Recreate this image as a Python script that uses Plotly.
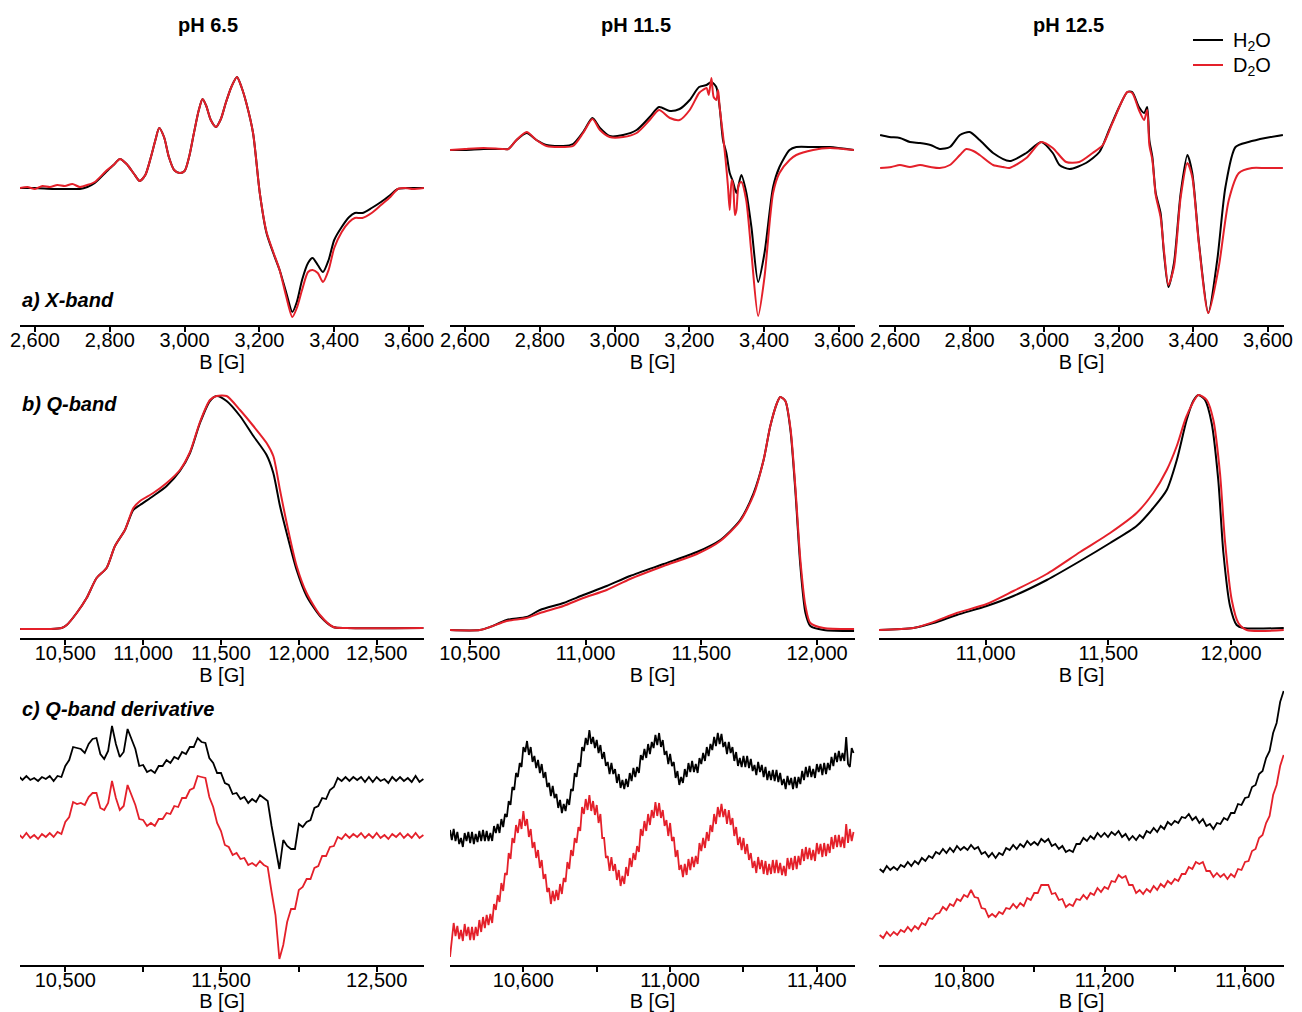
import numpy as np
import plotly.graph_objects as go

# ------------------------------------------------------------------ data
# a) X-band  (B in G, intensity in arbitrary units)
XA1_B_H2O = [2560,2600,2650,2700,2720,2740,2760,2790,2810,2827,2845,2865,2880,2895,2910,2922,2932,2945,2958,2972,2987,3000,3012,3025,3038,3048,3058,3070,3084,3097,3110,3125,3140,3152,3165,3183,3201,3219,3237,3254,3272,3288,3300,3314,3330,3342,3356,3370,3385,3400,3420,3440,3455,3475,3500,3525,3550,3570,3600,3640]
XA1_H2O = [137,137,136,136,136,138,142,153,160,166,161,151,144,150,168,185,197,188,168,155,152,154,168,192,215,226,219,205,198,206,222,238,248,238,222,192,132,92,72,55,32,13,23,45,62,67,60,53,65,85,98,108,112,112,117,123,130,136,137,137]
XA1_B_D2O = [2560,2580,2600,2620,2640,2660,2680,2700,2720,2740,2760,2790,2810,2827,2845,2865,2880,2895,2910,2922,2932,2945,2958,2972,2987,3000,3012,3025,3038,3048,3058,3070,3084,3097,3110,3125,3140,3152,3165,3183,3201,3219,3237,3254,3272,3288,3300,3314,3330,3342,3356,3370,3385,3400,3420,3440,3455,3475,3500,3525,3550,3570,3590,3610,3640]
XA1_D2O = [137,138,136,139,138,140,139,141,138,140,143,154,160,166,161,151,144,150,168,185,197,188,168,155,152,154,168,192,215,226,219,205,198,206,222,238,248,238,222,192,132,93,73,55,28,8,17,35,53,55,52,43,55,77,93,103,107,107,112,120,128,136,137,136,137]

XA2_B_H2O = [2560,2600,2650,2700,2716,2738,2765,2791,2818,2863,2889,2916,2941,2961,2987,3023,3059,3094,3119,3148,3174,3201,3226,3246,3259,3272,3281,3290,3299,3308,3317,3326,3339,3352,3366,3384,3401,3424,3441,3468,3486,3531,3575,3640]
XA2_H2O = [175,175,176,176,176,185,192,185,180,179,181,193,207,197,189,190,195,208,218,214,216,225,238,240,243,238,218,185,172,152,143,132,150,133,98,43,72,138,158,175,178,178,178,175]
XA2_B_D2O = [2560,2600,2650,2700,2716,2738,2765,2791,2818,2863,2889,2916,2941,2961,2987,3023,3059,3094,3119,3148,3174,3201,3226,3236,3246,3252,3259,3265,3272,3277,3281,3290,3297,3303,3308,3313,3317,3322,3326,3332,3339,3352,3366,3384,3401,3424,3441,3468,3486,3531,3575,3640]
XA2_D2O = [175,176,177,176,176,185,193,185,179,178,179,192,206,195,188,188,192,205,215,207,205,215,232,235,237,230,247,228,225,235,218,190,165,140,115,145,140,110,115,140,143,125,72,9,48,132,152,165,170,175,177,175]

XA3_B_H2O = [2560,2585,2613,2640,2667,2695,2720,2747,2774,2800,2827,2863,2907,2952,2992,3023,3041,3068,3112,3148,3174,3201,3223,3236,3254,3268,3276,3282,3290,3299,3312,3321,3333,3348,3366,3384,3397,3415,3440,3464,3486,3513,3548,3593,3640]
XA3_H2O = [190,188,187,183,182,180,176,178,190,193,185,172,164,172,183,172,160,156,162,173,195,218,233,233,218,212,218,185,168,132,112,72,38,62,132,170,152,82,12,65,138,178,183,187,190]
XA3_B_D2O = [2560,2590,2613,2640,2667,2695,2720,2747,2774,2791,2810,2827,2863,2890,2907,2952,2992,3023,3059,3094,3130,3157,3183,3223,3236,3254,3268,3276,3282,3290,3299,3312,3321,3333,3348,3366,3384,3397,3415,3440,3468,3495,3522,3557,3593,3640]
XA3_D2O = [157,158,160,158,160,158,157,160,170,176,174,170,160,158,157,167,183,177,163,163,172,180,202,233,232,215,205,215,180,165,130,108,75,40,58,128,162,148,80,12,58,125,152,157,157,157]

# b) Q-band (absorption)
QB1_B_H2O = [10210,10402,10476,10509,10573,10637,10701,10765,10819,10883,10937,10980,11065,11151,11236,11301,11365,11429,11472,11536,11622,11708,11793,11836,11879,11922,11986,12050,12136,12221,12307,12800]
QB1_H2O = [9,9,10,13,25,40,60,70,92,108,128,133,142,152,167,185,215,237,242,237,222,202,183,165,132,105,68,42,22,11,10,10]
QB1_B_D2O = QB1_B_H2O
QB1_D2O = [9,9,10,13,25,40,60,70,92,108,130,137,145,155,168,186,216,238,242,242,228,212,195,182,148,115,72,45,23,11,10,10]

QB2_B_H2O = [10406,10543,10587,10659,10745,10803,10904,10990,11091,11192,11337,11481,11582,11668,11726,11769,11798,11827,11841,11863,11885,11906,11928,11950,11971,12029,12160]
QB2_H2O = [8,8,11,18,21,28,35,43,52,62,74,86,98,118,145,178,212,235,241,237,208,148,72,25,12,8,7]
QB2_B_D2O = QB2_B_H2O
QB2_D2O = [8,8,11,17,20,25,32,40,48,59,72,84,97,117,143,178,212,235,241,237,210,152,78,32,15,10,9]

QB3_B_H2O = [10565,10705,10787,10882,11004,11113,11249,11385,11507,11615,11683,11738,11779,11819,11846,11867,11894,11921,11948,11969,11996,12023,12050,12215]
QB3_H2O = [8,10,15,23,32,42,58,77,95,112,130,148,178,218,237,243,238,215,158,85,32,13,10,10]
QB3_B_D2O = [10565,10705,10787,10882,11004,11113,11249,11385,11507,11615,11683,11738,11779,11819,11867,11901,11928,11955,11975,12003,12030,12064,12215]
QB3_D2O = [8,10,16,25,34,47,64,86,105,125,145,168,192,222,243,238,218,165,98,38,15,8,8]

# c) Q-band derivative (evenly sampled field sweeps: start, stop, values)
QD1_SWEEP = (10200, 12800)
QD1_H2O = [189,185,189,185,187,184,188,186,189,184, 189,188,199,205,218,217,216,212,221,226,
           227,211,206,214,239,221,208,213,236,226, 216,199,200,193,195,192,199,199,205,202,
           208,206,213,211,218,218,227,223,222,207, 202,192,192,182,180,171,172,166,168,162,
           166,163,170,167,164,139,117,96,125,119, 116,116,141,138,143,145,157,159,167,166,
           175,178,187,184,188,184,188,185,188,183, 188,183,188,184,186,182,188,184,188,184,
           187,183,189,183,186]
QD1_D2O = [131,127,132,127,130,126,131,128,132,128, 133,131,143,148,163,161,162,160,168,172,
           172,157,155,162,184,167,155,159,180,170, 160,146,145,139,142,139,146,146,152,151,
           159,158,167,167,175,177,189,188,187,168, 158,142,134,120,118,110,112,106,107,100,
           102,99,104,100,98,73,50,6,20,43, 56,56,75,78,86,86,97,99,109,109,
           118,119,128,126,131,127,131,128,132,127, 131,127,132,127,130,126,131,128,132,127,
           131,127,132,127,130]

QD2_SWEEP = (10400, 11500)
QD2_H2O = [135,125,136,124,133,121,127,118,132,124, 133,122,133,121,131,123,134,124,135,124,
           134,124,132,124,139,132,141,132,146,138, 151,148,164,160,178,175,192,188,202,198,
           218,213,224,210,218,203,209,197,205,192, 201,187,193,178,182,169,179,167,171,157,
           165,152,161,154,166,160,176,174,192,188, 202,198,218,214,227,220,235,221,228,217,
           225,212,220,206,213,199,203,191,202,191, 196,182,191,177,185,176,186,178,192,184,
           197,188,198,192,210,205,216,207,221,211, 223,217,230,220,232,218,225,210,214,201,
           211,199,203,187,194,180,188,182,196,188, 202,193,204,193,201,192,207,201,212,204,
           218,209,221,215,228,219,232,221,231,218, 223,211,223,212,218,204,213,199,207,198,
           209,198,209,197,206,194,200,190,203,193, 200,188,198,185,194,185,195,184,195,183,
           192,180,186,176,189,180,187,176,188,177, 188,181,194,185,198,188,199,188,196,187,
           201,193,201,190,202,191,202,195,208,199, 212,203,214,204,212,204,228,201,198,217,
           212]
QD2_D2O = [8,28,42,29,39,26,35,24,41,29, 38,25,38,25,38,29,45,33,48,37,
           50,40,51,42,61,55,70,63,82,74, 92,90,112,106,127,122,140,132,146,136,
           154,139,146,128,136,117,123,107,115,97, 105,86,91,73,77,61,74,64,75,65,
           81,71,87,83,103,96,115,109,127,122, 138,134,158,151,166,155,170,154,164,150,
           160,142,151,127,127,107,109,94,108,94, 101,85,95,79,89,81,98,89,107,98,
           112,105,119,113,136,129,144,134,151,140, 155,147,163,149,162,147,155,139,145,129,
           142,124,128,108,115,95,100,88,101,90, 106,95,108,98,109,101,122,114,127,117,
           133,124,140,133,151,141,158,148,161,148, 156,141,155,140,147,129,138,120,128,115,
           127,111,121,105,112,97,104,92,108,96, 105,91,104,90,101,91,105,92,105,92,
           102,90,99,89,107,96,107,95,109,96, 109,100,116,104,118,106,117,105,115,104,
           122,111,121,108,122,109,121,112,128,116, 130,118,130,118,128,117,141,122,136,124,
           133]

QD3_SWEEP = (10560, 11710)
QD3_H2O = [96,93,99,95,98,95,100,98,103,99, 104,101,107,104,109,107,113,111,116,112,
           117,113,119,115,118,115,120,116,118,111, 113,108,112,107,112,110,117,115,120,116,
           121,118,124,120,123,120,126,123,126,119, 121,116,119,113,115,113,121,121,127,124,
           129,126,132,128,132,128,133,130,134,128, 131,125,129,125,130,127,134,132,137,133,
           139,136,143,140,144,142,148,147,151,145, 148,142,146,139,141,136,142,141,147,145,
           152,152,161,160,167,168,178,180,191,194, 207,214,232,242,263,274]
QD3_D2O = [30,27,33,29,33,30,35,33,38,34, 39,36,42,40,47,46,51,52,58,55,
           61,59,66,64,70,68,75,68,67,57, 56,48,51,48,53,51,57,56,61,57,
           62,59,67,65,72,72,80,80,80,71, 72,65,66,58,61,59,66,65,70,66,
           72,70,77,73,78,76,84,83,90,87, 89,80,80,72,75,71,76,73,79,75,
           81,78,84,81,86,84,91,91,98,96, 103,101,103,94,94,88,92,88,91,86,
           91,88,96,95,103,104,114,116,127,130, 142,149,170,180,199,210]

# axis ticks / labels (labelled ticks) and unlabelled intermediate ticks
XB_TICKS = [2600, 2800, 3000, 3200, 3400, 3600]
XB_LABELS = ["2,600", "2,800", "3,000", "3,200", "3,400", "3,600"]
QB1_TICKS = [10500, 11000, 11500, 12000, 12500]
QB1_LABELS = ["10,500", "11,000", "11,500", "12,000", "12,500"]
QB2_TICKS = [10500, 11000, 11500, 12000]
QB2_LABELS = ["10,500", "11,000", "11,500", "12,000"]
QB3_TICKS = [11000, 11500, 12000]
QB3_LABELS = ["11,000", "11,500", "12,000"]
QD1_TICKS = [10500, 11500, 12500]
QD1_LABELS = ["10,500", "11,500", "12,500"]
QD1_MINOR = [11000, 12000]
QD2_TICKS = [10600, 11000, 11400]
QD2_LABELS = ["10,600", "11,000", "11,400"]
QD2_MINOR = [10800, 11200]
QD3_TICKS = [10800, 11200, 11600]
QD3_LABELS = ["10,800", "11,200", "11,600"]
QD3_MINOR = [11000, 11400]

COLUMN_TITLES = ["pH 6.5", "pH 11.5", "pH 12.5"]
ROW_LABELS = ["a) X-band", "b) Q-band", "c) Q-band derivative"]
SERIES_NAMES = ["H<sub>2</sub>O", "D<sub>2</sub>O"]

# ------------------------------------------------------------------ layout constants
W, H = 1302, 1012
BLACK = "#000000"
RED = "#e4202a"
COLORS = [BLACK, RED]
FONT = "Liberation Sans, Arial, Helvetica, sans-serif"
COLS_PX = [(20, 424), (450, 855), (879, 1284)]
ROWS_PX = [(70, 325), (390, 638), (686, 965)]
XRANGES = [
    [(2560, 3640), (2560, 3643), (2557, 3643)],
    [(10209, 12804), (10414, 12164), (10565, 12216)],
    [(10209, 12804), (10400, 11504), (10558, 11711)],
]


def sweep(rng, vals):
    return np.linspace(rng[0], rng[1], len(vals))


panels = [
    (0, 0, [(XA1_B_H2O, XA1_H2O), (XA1_B_D2O, XA1_D2O)], True, XB_TICKS, XB_LABELS, None),
    (0, 1, [(XA2_B_H2O, XA2_H2O), (XA2_B_D2O, XA2_D2O)], True, XB_TICKS, XB_LABELS, None),
    (0, 2, [(XA3_B_H2O, XA3_H2O), (XA3_B_D2O, XA3_D2O)], True, XB_TICKS, XB_LABELS, None),
    (1, 0, [(QB1_B_H2O, QB1_H2O), (QB1_B_D2O, QB1_D2O)], True, QB1_TICKS, QB1_LABELS, None),
    (1, 1, [(QB2_B_H2O, QB2_H2O), (QB2_B_D2O, QB2_D2O)], True, QB2_TICKS, QB2_LABELS, None),
    (1, 2, [(QB3_B_H2O, QB3_H2O), (QB3_B_D2O, QB3_D2O)], True, QB3_TICKS, QB3_LABELS, None),
    (2, 0, [(sweep(QD1_SWEEP, QD1_H2O), QD1_H2O), (sweep(QD1_SWEEP, QD1_D2O), QD1_D2O)], False, QD1_TICKS, QD1_LABELS, QD1_MINOR),
    (2, 1, [(sweep(QD2_SWEEP, QD2_H2O), QD2_H2O), (sweep(QD2_SWEEP, QD2_D2O), QD2_D2O)], False, QD2_TICKS, QD2_LABELS, QD2_MINOR),
    (2, 2, [(sweep(QD3_SWEEP, QD3_H2O), QD3_H2O), (sweep(QD3_SWEEP, QD3_D2O), QD3_D2O)], False, QD3_TICKS, QD3_LABELS, QD3_MINOR),
]

fig = go.Figure()
layout_axes = {}
for k, (r, c, traces, smooth, tv, tt, minor) in enumerate(panels, start=1):
    sx = "" if k == 1 else str(k)
    for i, (x, y) in enumerate(traces):
        line = dict(color=COLORS[i], width=2 if smooth else 1.8)
        if smooth:
            line.update(shape="spline", smoothing=0.7)
        fig.add_trace(go.Scatter(
            x=list(x), y=y, mode="lines", line=line,
            xaxis="x" + sx, yaxis="y" + sx,
            name=SERIES_NAMES[i], showlegend=False, hoverinfo="skip"))
    x0, x1 = COLS_PX[c]
    y0, y1 = ROWS_PX[r]
    ax = dict(
        domain=[x0 / W, x1 / W], anchor="y" + sx, range=list(XRANGES[r][c]),
        tickmode="array", tickvals=tv, ticktext=tt,
        ticks="outside", ticklen=5, tickwidth=1.5, tickcolor=BLACK,
        showline=True, linecolor=BLACK, linewidth=2,
        showgrid=False, zeroline=False, fixedrange=True, automargin=False,
        tickfont=dict(family=FONT, size=20, color=BLACK),
        title=dict(text="B [G]", font=dict(family=FONT, size=20, color=BLACK), standoff=0),
    )
    if minor is not None:
        ax["minor"] = dict(ticks="outside", ticklen=5, tickwidth=1.5, tickcolor=BLACK,
                           tickmode="array", tickvals=minor, showgrid=False)
    layout_axes["xaxis" + sx] = ax
    layout_axes["yaxis" + sx] = dict(
        domain=[1 - y1 / H, 1 - y0 / H], anchor="x" + sx,
        range=[0, y1 - y0], visible=False, fixedrange=True, automargin=False)

annotations = []
TITLE_X = [208, 636, 1068]
for t, xp in zip(COLUMN_TITLES, TITLE_X):
    annotations.append(dict(text="<b>%s</b>" % t, x=xp / W, y=1 - 25 / H, xref="paper", yref="paper",
                            xanchor="center", yanchor="middle", showarrow=False,
                            font=dict(family=FONT, size=20, color=BLACK)))
LABEL_Y = [300, 404, 709]
for t, yp in zip(ROW_LABELS, LABEL_Y):
    annotations.append(dict(text="<b><i>%s</i></b>" % t, x=20 / W, y=1 - yp / H, xref="paper", yref="paper",
                            xanchor="left", yanchor="middle", showarrow=False,
                            font=dict(family=FONT, size=20, color=BLACK)))

# legend (drawn as key lines + labels, top right)
shapes = []
LEG_Y = [40, 65]
for name, col, yp in zip(SERIES_NAMES, COLORS, LEG_Y):
    shapes.append(dict(type="line", xref="paper", yref="paper", x0=1193 / W, x1=1223 / W,
                       y0=1 - yp / H, y1=1 - yp / H, line=dict(color=col, width=2)))
    annotations.append(dict(text=name, x=1231 / W, y=1 - (yp + 2) / H, xref="paper", yref="paper",
                            xanchor="left", yanchor="middle", showarrow=False,
                            font=dict(family=FONT, size=20, color=BLACK)))

fig.update_layout(
    width=W, height=H, margin=dict(l=0, r=0, t=0, b=0, autoexpand=False),
    paper_bgcolor="white", plot_bgcolor="white",
    font=dict(family=FONT, size=20, color=BLACK),
    showlegend=False,
    annotations=annotations, shapes=shapes,
    **layout_axes,
)

# pull tick labels a little closer to the axis line
for k in range(1, 10):
    sx = "" if k == 1 else str(k)
    try:
        fig.layout["xaxis" + sx].ticklabelstandoff = -9
    except Exception:
        pass

fig.write_html("out.html")
